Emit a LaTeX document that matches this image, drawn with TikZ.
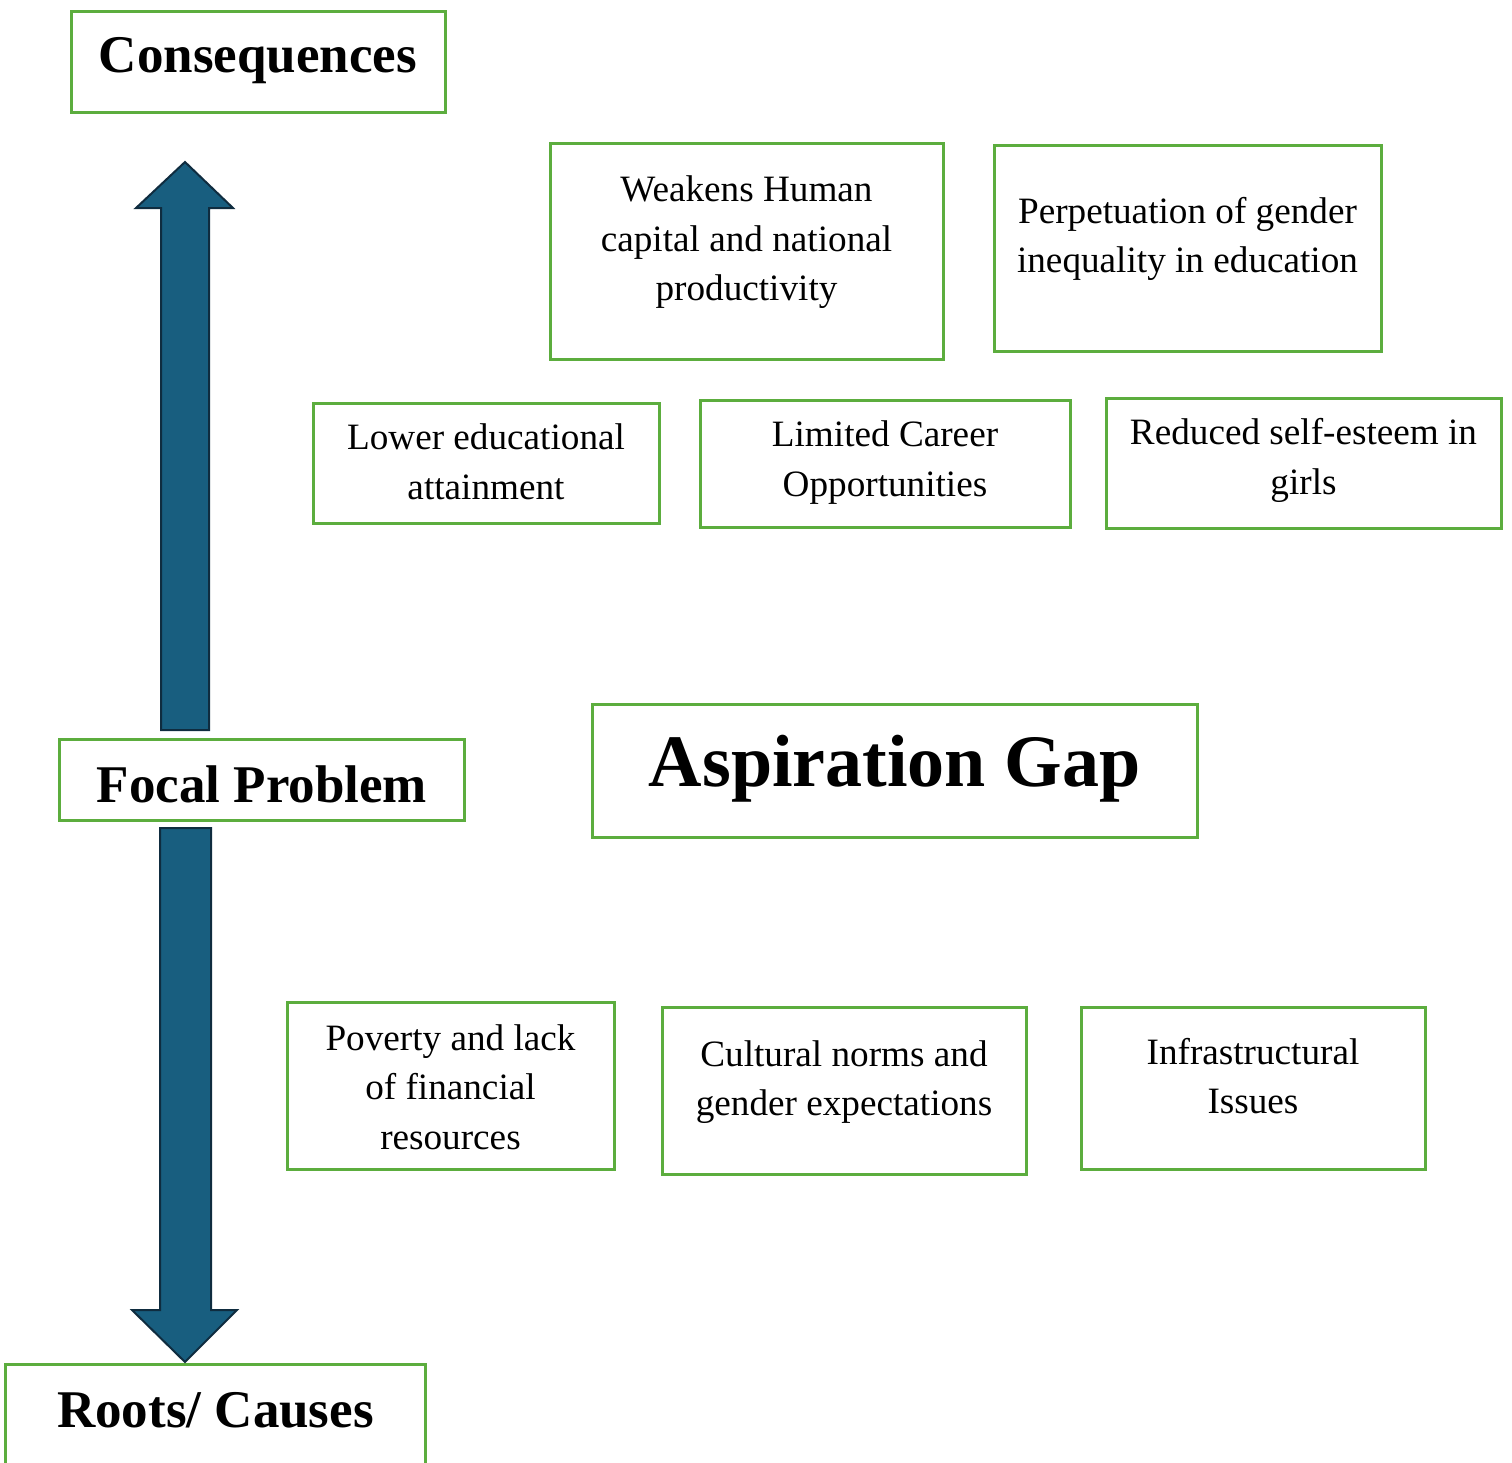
\documentclass[tikz,border=0pt]{standalone}
\usepackage{fontspec}
\setmainfont{Liberation Serif}
\usetikzlibrary{fit}
\definecolor{boxgreen}{HTML}{5CAD3E}
\definecolor{arrfill}{HTML}{185E7F}
\definecolor{arrline}{HTML}{0F2C3F}
\begin{document}
\begin{tikzpicture}[x=0.5pt,y=-0.5pt,
  box/.style={draw=boxgreen,line width=1.5pt,inner sep=0pt,fill=white},
  body/.style={inner sep=0pt,align=center,font=\fontsize{18.6pt}{24.75pt}\selectfont},
  head/.style={inner sep=0pt,align=center,font=\fontsize{26.5pt}{30pt}\selectfont\bfseries},
  big/.style={inner sep=0pt,align=center,font=\fontsize{37pt}{42pt}\selectfont\bfseries},
  bigarrow/.style={fill=arrfill,draw=arrline,line width=1pt,line join=miter}]
\useasboundingbox (0,0) rectangle (1512,1463);

% headings
\node[box,fit={(71,11) (445,112)}] (cons) {};
\node[head] (cons-t) at (258,61) {Consequences};
\node[box,fit={(59,739) (464,820)}] (focal) {};
\node[head] (focal-t) at (262,784) {Focal Problem};
\node[box,fit={(5,1364) (425,1480)}] (roots) {};
\node[head] (roots-t) at (215.5,1410) {Roots/ Causes};
\node[box,fit={(592,704) (1197,837)}] (gap) {};
\node[big] (gap-t) at (894.5,769) {Aspiration Gap};

% arrows
\draw[bigarrow] (161,730) -- (161,208) -- (136,208) -- (185,162) -- (233,208) -- (209,208) -- (209,730) -- cycle;
\draw[bigarrow] (160,828) -- (160,1310) -- (132,1310) -- (185,1362) -- (237,1310) -- (211,1310) -- (211,828) -- cycle;

% consequences
\node[box,fit={(550,143) (943,359)}] (weak) {};
\node[body] (weak-t) at (746.5,242.5) {Weakens Human\\capital and national\\productivity};
\node[box,fit={(994,145) (1381,351)}] (perp) {};
\node[body] (perp-t) at (1187.5,239) {Perpetuation of gender\\inequality in education};
\node[box,fit={(313,403) (659,523)}] (lower) {};
\node[body] (lower-t) at (486,462) {Lower educational\\attainment};
\node[box,fit={(700,400) (1070,527)}] (career) {};
\node[body] (career-t) at (885,462.5) {Limited Career\\Opportunities};
\node[box,fit={(1106,398) (1501,528)}] (esteem) {};
\node[body] (esteem-t) at (1303.5,460.5) {Reduced self-esteem in\\girls};

% causes
\node[box,fit={(287,1002) (614,1169)}] (pov) {};
\node[body] (pov-t) at (450.5,1087) {Poverty and lack\\of financial\\resources};
\node[box,fit={(662,1007) (1026,1174)}] (cult) {};
\node[body] (cult-t) at (844,1082) {Cultural norms and\\gender expectations};
\node[box,fit={(1081,1007) (1425,1169)}] (infra) {};
\node[body] (infra-t) at (1253,1076) {Infrastructural\\Issues};
\end{tikzpicture}
\end{document}
